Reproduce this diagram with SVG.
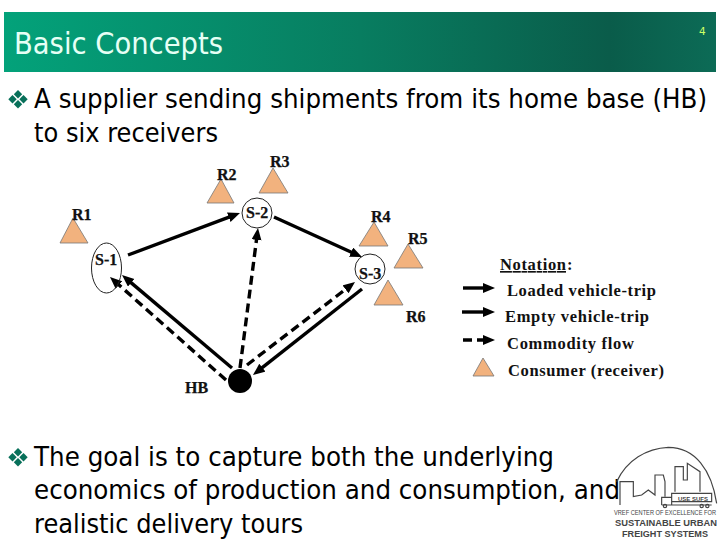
<svg xmlns="http://www.w3.org/2000/svg" xmlns:xlink="http://www.w3.org/1999/xlink" width="720" height="540" viewBox="0 0 720 540">
<style>
.body{font-family:"DejaVu Sans","Noto Sans",sans-serif;font-size:27px;fill:#000}
.lab{font-family:"Liberation Serif",serif;font-size:16px;font-weight:bold;fill:#111;stroke:#111;stroke-width:.25}
.leg{font-family:"Liberation Serif",serif;font-size:16.5px;font-weight:bold;fill:#111}
.tri{fill:#f2b27e;stroke:#777;stroke-width:.8}
.node{fill:none;stroke:#222;stroke-width:1}
.solid{fill:none;stroke:#000;stroke-width:3.4;marker-end:url(#ah)}
.dash{fill:none;stroke:#000;stroke-width:3.4;stroke-dasharray:9 5;marker-end:url(#ah)}
.logo{fill:none;stroke:#444;stroke-width:3.500}
.lt{font-family:"Liberation Sans",sans-serif;font-weight:bold;fill:#444}
</style>
<defs>
<linearGradient id="hdr" x1="0" x2="1" y1="0" y2="0">
<stop offset="0" stop-color="#03a27a"/>
<stop offset=".5" stop-color="#087d60"/>
<stop offset=".85" stop-color="#0a5c4a"/>
<stop offset="1" stop-color="#0c6b56"/>
</linearGradient>
<marker id="ah" markerUnits="userSpaceOnUse" markerWidth="13" markerHeight="11" refX="1" refY="5" orient="auto">
<path d="M0 0L12 5L0 10z" fill="#000"/>
</marker>
<g id="bul" fill="#08705a">
<path d="M10 0l4.200 4.200-4.200 4.200-4.200-4.200z"/>
<path d="M4.500 5l4.200 4.200-4.200 4.200-4.200-4.200z"/>
<path d="M15.500 5l4.200 4.200-4.200 4.200-4.200-4.200z"/>
<path d="M10 10l4.200 4.200-4.200 4.200-4.200-4.200z"/>
</g>
</defs>
<rect width="720" height="540" fill="#fff"/>
<g id="header">
<rect x="4" y="12" width="712" height="60" fill="url(#hdr)"/>
<text x="14" y="54" font-family="'DejaVu Sans',sans-serif" font-size="30" fill="#e6fff5" textLength="209" lengthAdjust="spacingAndGlyphs">Basic Concepts</text>
<text x="699" y="35" font-family="'DejaVu Sans',sans-serif" font-size="10.5" fill="#ccff66">4</text>
</g>
<g id="text-top">
<use xlink:href="#bul" href="#bul" x="8" y="90"/>
<text class="body" x="34" y="108" textLength="673" lengthAdjust="spacingAndGlyphs">A supplier sending shipments from its home base (HB)</text>
<text class="body" x="34" y="142" textLength="184" lengthAdjust="spacingAndGlyphs">to six receivers</text>
</g>
<g id="connectors">
<line class="solid" x1="128" y1="255" x2="229.7" y2="216.9"/>
<line class="solid" x1="274" y1="217" x2="352" y2="252.5"/>
<line class="solid" x1="232" y1="368" x2="130.4" y2="282.1"/>
<line class="dash" x1="226" y1="380" x2="118.2" y2="284.3"/>
<line class="dash" x1="240" y1="368" x2="256.6" y2="238.9"/>
<line class="dash" x1="247" y1="365" x2="346.3" y2="288.7"/>
<line class="solid" x1="362" y1="289" x2="261.6" y2="368.2"/>
</g>
<g id="R1"><path class="tri" d="M73 218L60 243H88z"/><text class="lab" x="72" y="220">R1</text></g>
<g id="R2"><path class="tri" d="M221 179L207 203H234z"/><text class="lab" x="217" y="180">R2</text></g>
<g id="R3"><path class="tri" d="M273 168L259 193H288z"/><text class="lab" x="270" y="167">R3</text></g>
<g id="R4"><path class="tri" d="M374 222L359 246H388z"/><text class="lab" x="371" y="222">R4</text></g>
<g id="R5"><path class="tri" d="M408 244L394 268H423z"/><text class="lab" x="408" y="244">R5</text></g>
<g id="R6"><path class="tri" d="M388 280L374 305H403z"/><text class="lab" x="406" y="322">R6</text></g>
<g id="S-1"><ellipse class="node" cx="106.500" cy="268" rx="15" ry="25"/><text class="lab" x="95" y="265">S-1</text></g>
<g id="S-2"><circle class="node" cx="257" cy="213" r="15"/><text class="lab" x="246" y="218">S-2</text></g>
<g id="S-3"><circle class="node" cx="370" cy="269" r="15"/><text class="lab" x="359" y="279">S-3</text></g>
<g id="HB"><circle cx="240" cy="381" r="12" fill="#000"/><text class="lab" x="185" y="393">HB</text></g>
<g id="legend">
<text class="leg" x="500" y="270" text-decoration="underline" textLength="66" lengthAdjust="spacing">Notation</text><text class="leg" x="567" y="270">:</text>
<line class="solid" x1="463" y1="288" x2="484" y2="288"/>
<text class="leg" x="507" y="296" textLength="149" lengthAdjust="spacing">Loaded vehicle-trip</text>
<line class="solid" x1="462" y1="312" x2="484" y2="312"/>
<text class="leg" x="505" y="322" textLength="144" lengthAdjust="spacing">Empty vehicle-trip</text>
<line class="dash" x1="463" y1="340" x2="484" y2="340"/>
<text class="leg" x="507" y="349" textLength="127" lengthAdjust="spacing">Commodity flow</text>
<path class="tri" d="M483 358L473 376H494z"/>
<text class="leg" x="508" y="376" textLength="156" lengthAdjust="spacing">Consumer (receiver)</text>
</g>
<g id="text-bottom">
<use xlink:href="#bul" href="#bul" x="8" y="448"/>
<text class="body" x="34" y="466" textLength="520" lengthAdjust="spacingAndGlyphs">The goal is to capture both the underlying</text>
<text class="body" x="34" y="499" textLength="586" lengthAdjust="spacingAndGlyphs">economics of production and consumption, and</text>
<text class="body" x="34" y="533" textLength="269" lengthAdjust="spacingAndGlyphs">realistic delivery tours</text>
</g>
<g id="logo">
<g transform="translate(600 440) scale(.3333)">
<path class="logo" d="M50 125C80 60 140 25 205 22C285 22 335 90 350 190"/>
<path class="logo" d="M60 195V125H100V170L125 165L145 150L165 165V105H190L195 125V170"/>
<path class="logo" d="M225 155V80H250V120H262V70L300 95V155"/>
<path class="logo" d="M215 160H335V185H215zM185 195V172H215V195H185M215 195H335"/>
<circle class="logo" cx="195" cy="198" r="5"/><circle class="logo" cx="305" cy="198" r="5"/><circle class="logo" cx="322" cy="198" r="5"/>
</g>
<text class="lt" x="678" y="501" font-size="6" textLength="30" lengthAdjust="spacingAndGlyphs">USE SUFS</text>
<text class="lt" x="614" y="515" font-size="6.500" style="font-weight:normal" textLength="102" lengthAdjust="spacingAndGlyphs">VREF CENTER OF EXCELLENCE FOR</text>
<text class="lt" x="615" y="526" font-size="9.500" textLength="102" lengthAdjust="spacingAndGlyphs">SUSTAINABLE URBAN</text>
<text class="lt" x="622" y="537" font-size="9.500" textLength="86" lengthAdjust="spacingAndGlyphs">FREIGHT SYSTEMS</text>
</g>
</svg>
